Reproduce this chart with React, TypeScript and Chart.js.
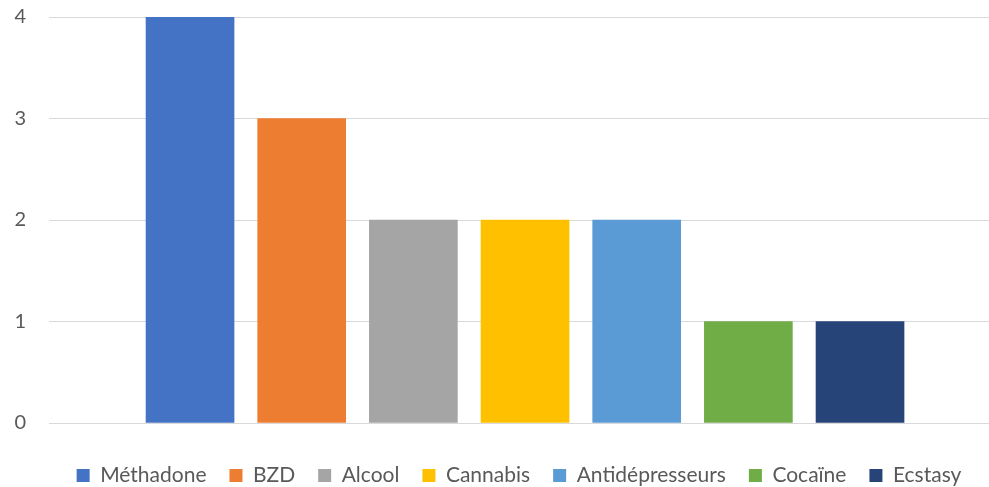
import React, { useEffect, useRef } from "react";
import { Chart, registerables } from "chart.js";

Chart.register(...registerables);

const categories = ["Méthadone", "BZD", "Alcool", "Cannabis", "Antidépresseurs", "Cocaïne", "Ecstasy"];
const values = [4, 3, 2, 2, 2, 1, 1];
const colors = ["#4472C4", "#ED7D31", "#A5A5A5", "#FFC000", "#5B9BD5", "#70AD47", "#264478"];
const yTickValues = [0, 1, 2, 3, 4];

export default function App() {
  const ref = useRef<HTMLCanvasElement | null>(null);

  useEffect(() => {
    if (!ref.current) return;
    const chart = new Chart(ref.current, {
      type: "bar",
      data: {
        datasets: categories.map((name, i) => ({
          label: name,
          data: [{ x: i, y: values[i] }],
          backgroundColor: colors[i],
          borderWidth: 0,
          barThickness: 88,
          grouped: false,
        })),
      },
      options: {
        responsive: false,
        animation: false,
        layout: { padding: { top: 17, right: 0, left: 0, bottom: 0 } },
        scales: {
          x: {
            type: "linear",
            offset: false,
            min: -1.263,
            max: 7.155,
            ticks: { display: false },
            grid: { display: false },
            border: { display: false },
            afterFit: (s: any) => {
              s.height = 19;
            },
          },
          y: {
            min: yTickValues[0],
            max: yTickValues[yTickValues.length - 1],
            ticks: {
              stepSize: 1,
              padding: 23,
              color: "#595959",
              font: { family: "Lato", size: 20 },
            },
            grid: { color: "#D9D9D9", lineWidth: 1, drawTicks: false },
            border: { display: false },
            afterFit: (s: any) => {
              s.width = 49;
              s.paddingTop = 0;
              s.paddingBottom = 0;
            },
          },
        },
        plugins: {
          tooltip: { enabled: false },
          legend: {
            position: "bottom",
            fullSize: false,
            labels: {
              boxWidth: 13,
              boxHeight: 13,
              padding: 23,
              color: "#595959",
              font: { family: "Lato", size: 21 },
            },
          },
        },
      },
    });
    return () => chart.destroy();
  }, []);

  return (
    <div style={{ position: "absolute", left: 0, top: 0, width: 989, height: 487, overflow: "hidden", background: "#fff" }}>
      <canvas ref={ref} width={989} height={496} style={{ display: "block" }} />
    </div>
  );
}
